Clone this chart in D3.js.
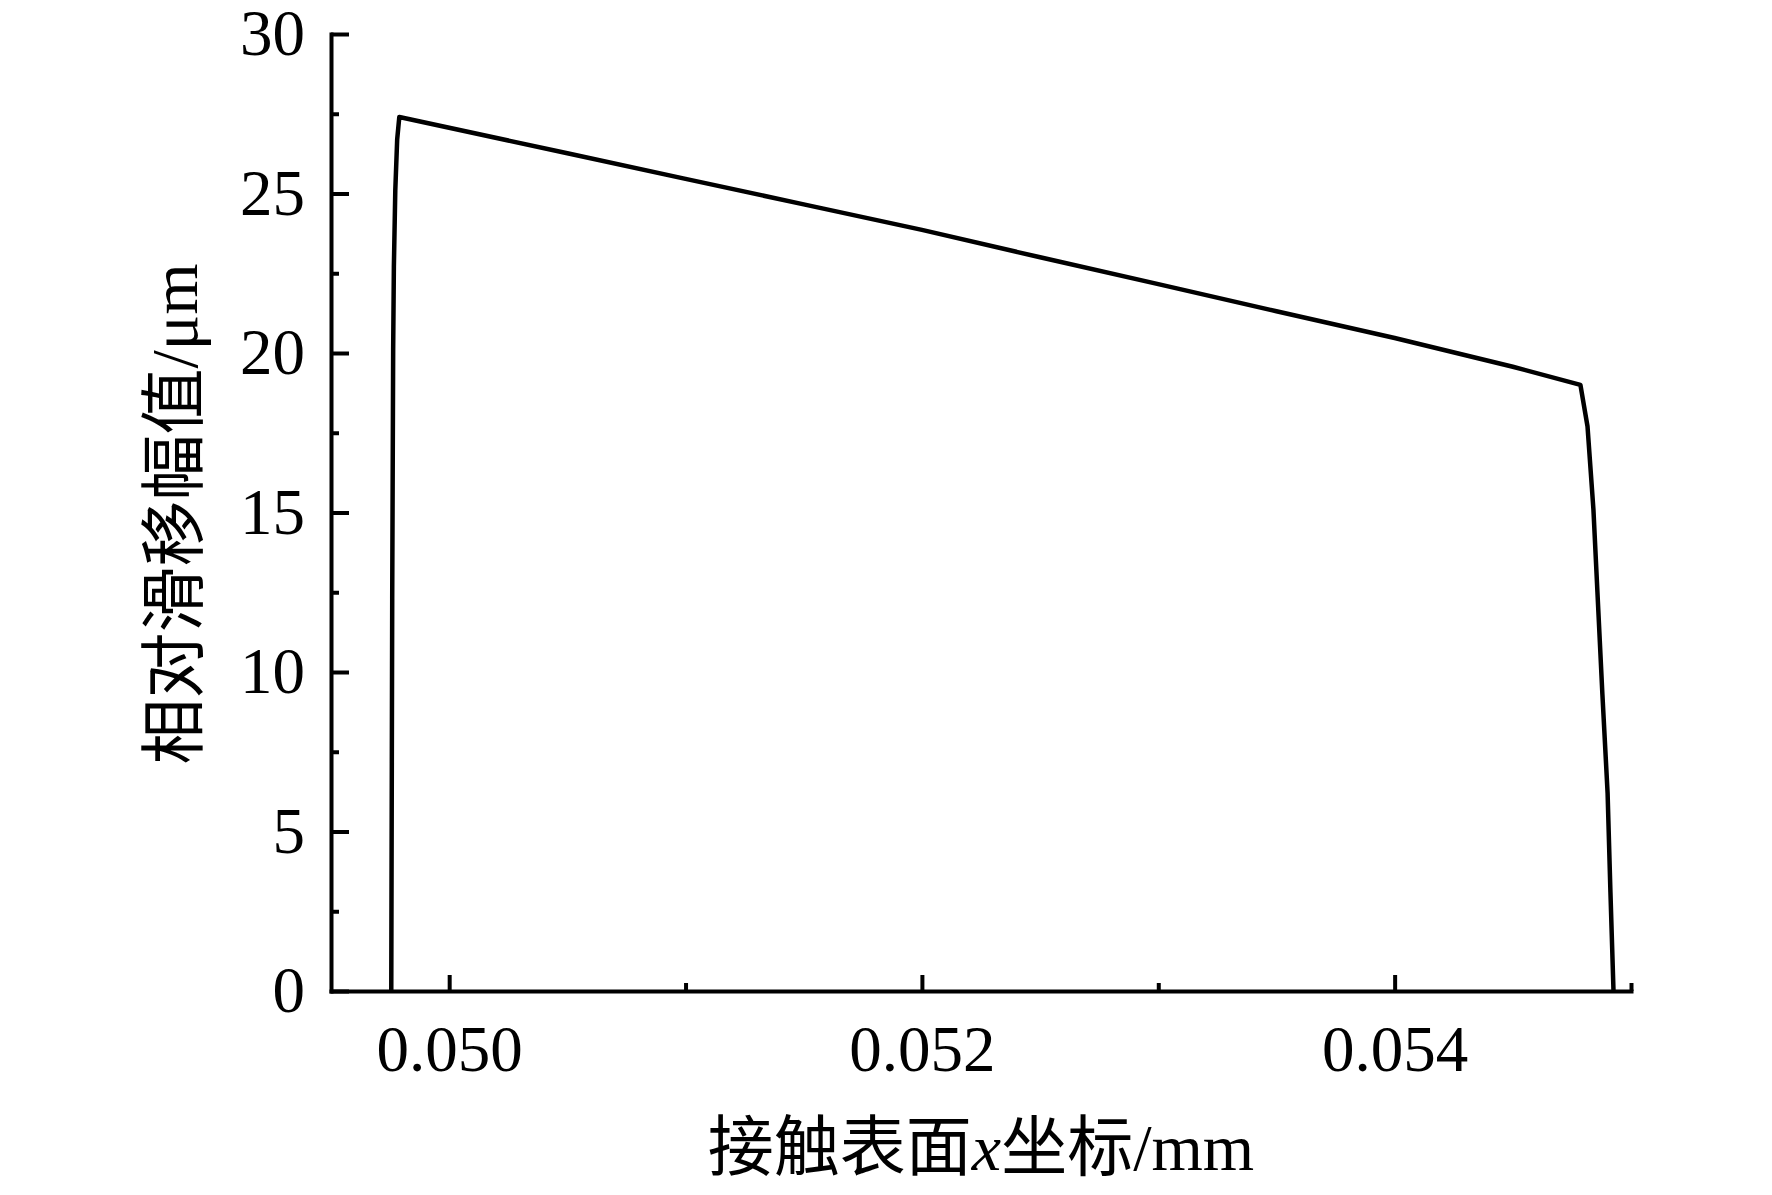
<!DOCTYPE html>
<html lang="zh">
  <head>
    <meta charset="UTF-8" />
    <title>相对滑移幅值</title>
    <style>
      body {
        margin: 0;
        padding: 0;
        background: #fff;
      }
      svg {
        display: block;
        font-family: "Liberation Serif", "Noto Sans CJK SC", serif;
      }
      .axis path,
      .axis line {
        stroke: #000;
        stroke-width: 4px;
      }
      .axis text {
        font-family: "Liberation Serif", serif;
        font-size: 65px;
        fill: #000;
      }
    </style>
  </head>
  <body>
    <svg id="chart"></svg>

    <script src="https://d3js.org/d3.v7.min.js"></script>
    <script>
      // contact surface x coordinate (mm)
      const xCoord = [
        0.049755, 0.049759, 0.049763, 0.049766, 0.049772, 0.04978, 0.049789,
        0.0505, 0.051, 0.0515, 0.052, 0.0525, 0.053, 0.0535, 0.054, 0.0545,
        0.054786, 0.054816, 0.054841, 0.054858, 0.054879, 0.054901, 0.054913,
        0.054926,
      ];
      // relative slip amplitude (um)
      const slipAmp = [
        0, 12.3, 20.1, 22.7, 25.1, 26.7, 27.4,
        26.26, 25.46, 24.66, 23.86, 23.0, 22.16, 21.31, 20.47, 19.57,
        19.0, 17.7, 15.1, 12.5, 9.3, 6.2, 3.1,
        0,
      ];

      const xMajorTicks = [0.05, 0.052, 0.054];
      const xMinorTicks = [0.051, 0.053, 0.055];
      const yMajorTicks = [0, 5, 10, 15, 20, 25, 30];
      const yMinorTicks = [2.5, 7.5, 12.5, 17.5, 22.5, 27.5];

      const width = 1772;
      const height = 1195;

      const svg = d3
        .select("#chart")
        .attr("width", width)
        .attr("height", height);

      svg
        .append("rect")
        .attr("width", width)
        .attr("height", height)
        .attr("fill", "#fff");

      const x = d3.scaleLinear().domain([0.0495, 0.055]).range([331, 1631]);
      const y = d3.scaleLinear().domain([0, 30]).range([991, 34]);

      // minor ticks first, so the main axes sit on top
      svg
        .append("g")
        .attr("class", "axis")
        .attr("transform", `translate(0,${y(0)})`)
        .call(
          d3.axisBottom(x).tickValues(xMinorTicks).tickSize(-8).tickFormat("")
        )
        .call((g) => g.select(".domain").remove());

      svg
        .append("g")
        .attr("class", "axis")
        .attr("transform", `translate(${x(0.0495)},0)`)
        .call(
          d3.axisLeft(y).tickValues(yMinorTicks).tickSize(-8).tickFormat("")
        )
        .call((g) => g.select(".domain").remove());

      svg
        .append("g")
        .attr("class", "axis")
        .attr("transform", `translate(0,${y(0)})`)
        .call(
          d3
            .axisBottom(x)
            .tickValues(xMajorTicks)
            .tickSizeInner(-16)
            .tickSizeOuter(0)
            .tickPadding(34)
            .tickFormat(d3.format(".3f"))
        );

      svg
        .append("g")
        .attr("class", "axis")
        .attr("transform", `translate(${x(0.0495)},0)`)
        .call(
          d3
            .axisLeft(y)
            .tickValues(yMajorTicks)
            .tickSizeInner(-18)
            .tickSizeOuter(0)
            .tickPadding(26)
            .tickFormat(d3.format("d"))
        );

      svg.selectAll(".axis .domain").attr("stroke-linecap", "square");

      const line = d3
        .line()
        .x((d) => x(d[0]))
        .y((d) => y(d[1]));

      svg
        .append("path")
        .datum(d3.zip(xCoord, slipAmp))
        .attr("d", line)
        .attr("fill", "none")
        .attr("stroke", "#000")
        .attr("stroke-width", 4.5)
        .attr("stroke-linejoin", "round");

      // axis titles
      const xTitle = svg
        .append("text")
        .attr("x", 981)
        .attr("y", 1170)
        .attr("text-anchor", "middle")
        .attr("font-size", 66)
        .attr("fill", "#000");
      xTitle.append("tspan").text("接触表面");
      xTitle.append("tspan").attr("font-style", "italic").text("x");
      xTitle.append("tspan").text("坐标/mm");

      svg
        .append("text")
        .attr("transform", "translate(197,514) rotate(-90)")
        .attr("text-anchor", "middle")
        .attr("font-size", 66)
        .attr("fill", "#000")
        .text("相对滑移幅值/μm");
    </script>
  </body>
</html>
